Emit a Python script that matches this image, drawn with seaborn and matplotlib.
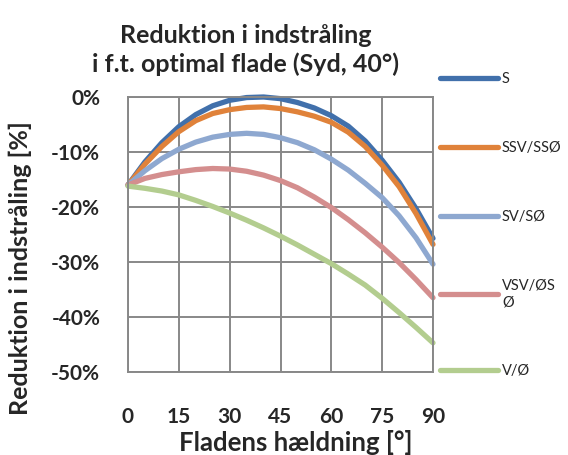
import numpy as np
import pandas as pd
import matplotlib
matplotlib.use("Agg")
import matplotlib.pyplot as plt
import seaborn as sns

# tilt angle of the surface [deg]
tilt = [0, 5, 10, 15, 20, 25, 30, 35, 40, 45, 50, 55, 60, 65, 70, 75, 80, 85, 90]

# reduction in irradiation relative to optimal surface (South, 40 deg) [%]
s_vals = [-16.0, -11.8, -8.3, -5.4, -3.2, -1.6, -0.6, -0.1, 0.0, -0.3, -1.0,
          -2.0, -3.4, -5.3, -8.0, -11.5, -15.5, -20.3, -25.7]
ssv_vals = [-16.0, -12.2, -9.0, -6.3, -4.3, -3.0, -2.3, -1.9, -1.8, -2.1, -2.7,
            -3.5, -4.6, -6.4, -9.0, -12.4, -16.3, -21.2, -26.8]
sv_vals = [-16.0, -13.4, -11.2, -9.5, -8.2, -7.3, -6.8, -6.6, -6.8, -7.4, -8.3,
           -9.6, -11.3, -13.3, -15.7, -18.3, -21.6, -25.6, -30.4]
vsv_vals = [-16.0, -14.8, -14.1, -13.6, -13.2, -13.0, -13.1, -13.5, -14.2, -15.2,
            -16.5, -18.2, -20.1, -22.3, -24.7, -27.3, -30.1, -33.2, -36.5]
v_vals = [-16.2, -16.6, -17.1, -17.8, -18.8, -19.9, -21.1, -22.4, -23.8, -25.3,
          -26.9, -28.6, -30.3, -32.2, -34.2, -36.6, -39.2, -41.9, -44.7]

series_names = ["S", "SSV/SSØ", "SV/SØ", "VSV/ØS\nØ", "V/Ø"]
series_values = [s_vals, ssv_vals, sv_vals, vsv_vals, v_vals]
colors = ["#4170AB", "#E0823A", "#8EA8D0", "#D48E8E", "#B3CD8F"]

x_ticks = [0, 15, 30, 45, 60, 75, 90]
y_ticks = [0, -10, -20, -30, -40, -50]

rows = []
for name, vals in zip(series_names, series_values):
    for t, v in zip(tilt, vals):
        rows.append({"tilt": t, "reduction": v, "orientation": name})
df = pd.DataFrame(rows)

sns.set_style("white")
plt.rcParams["font.family"] = ["Lato", "DejaVu Sans"]

fig = plt.figure(figsize=(5.68, 4.55), dpi=100)
ax = fig.add_axes([128 / 568, 1 - 372 / 455, (433 - 128) / 568, (372 - 97) / 455])

sns.lineplot(data=df, x="tilt", y="reduction", hue="orientation",
             palette=dict(zip(series_names, colors)), linewidth=3.8,
             ax=ax, legend=True)
for line in ax.get_lines():
    line.set_clip_on(False)
    line.set_solid_capstyle("round")

ax.set_xlim(0, 90)
ax.set_ylim(-50, 0)
ax.set_xticks(x_ticks)
ax.set_yticks(y_ticks)
ax.set_xticklabels([str(t) for t in x_ticks], fontsize=15, fontweight="bold")
ax.set_yticklabels([f"{t}%" for t in y_ticks], fontsize=15, fontweight="bold")
ax.tick_params(axis="both", length=0)
ax.tick_params(axis="y", pad=20)
ax.tick_params(axis="x", pad=25)
ax.grid(True, color="#888888", linewidth=1.4)
ax.set_axisbelow(True)
for sp in ax.spines.values():
    sp.set_color("#888888")
    sp.set_linewidth(1.4)
ax.set_xlabel("")
ax.set_ylabel("")

fig.text(246 / 568, 1 - 50 / 455, "Reduktion i indstråling\ni f.t. optimal flade (Syd, 40°)",
         ha="center", va="center", fontsize=18, fontweight="bold", linespacing=1.3)
fig.text(296 / 568, 1 - 451 / 455, "Fladens hældning [°]",
         ha="center", va="baseline", fontsize=18.5, fontweight="bold")
fig.text(20 / 568, 1 - 268 / 455, "Reduktion i indstråling [%]", rotation=90,
         ha="center", va="center", fontsize=18, fontweight="bold")

handles, labels = ax.get_legend_handles_labels()
leg = ax.legend(handles, labels, loc="upper left",
                bbox_to_anchor=(440 / 568, 1 - 72 / 455), bbox_transform=fig.transFigure,
                frameon=False, fontsize=10.5, handlelength=4.0, handletextpad=0.25,
                labelspacing=3.77, borderaxespad=0, borderpad=0)
for h in leg.get_lines():
    h.set_linewidth(3.8)
    h.set_solid_capstyle("round")

fig.savefig("out.png", dpi=100)
